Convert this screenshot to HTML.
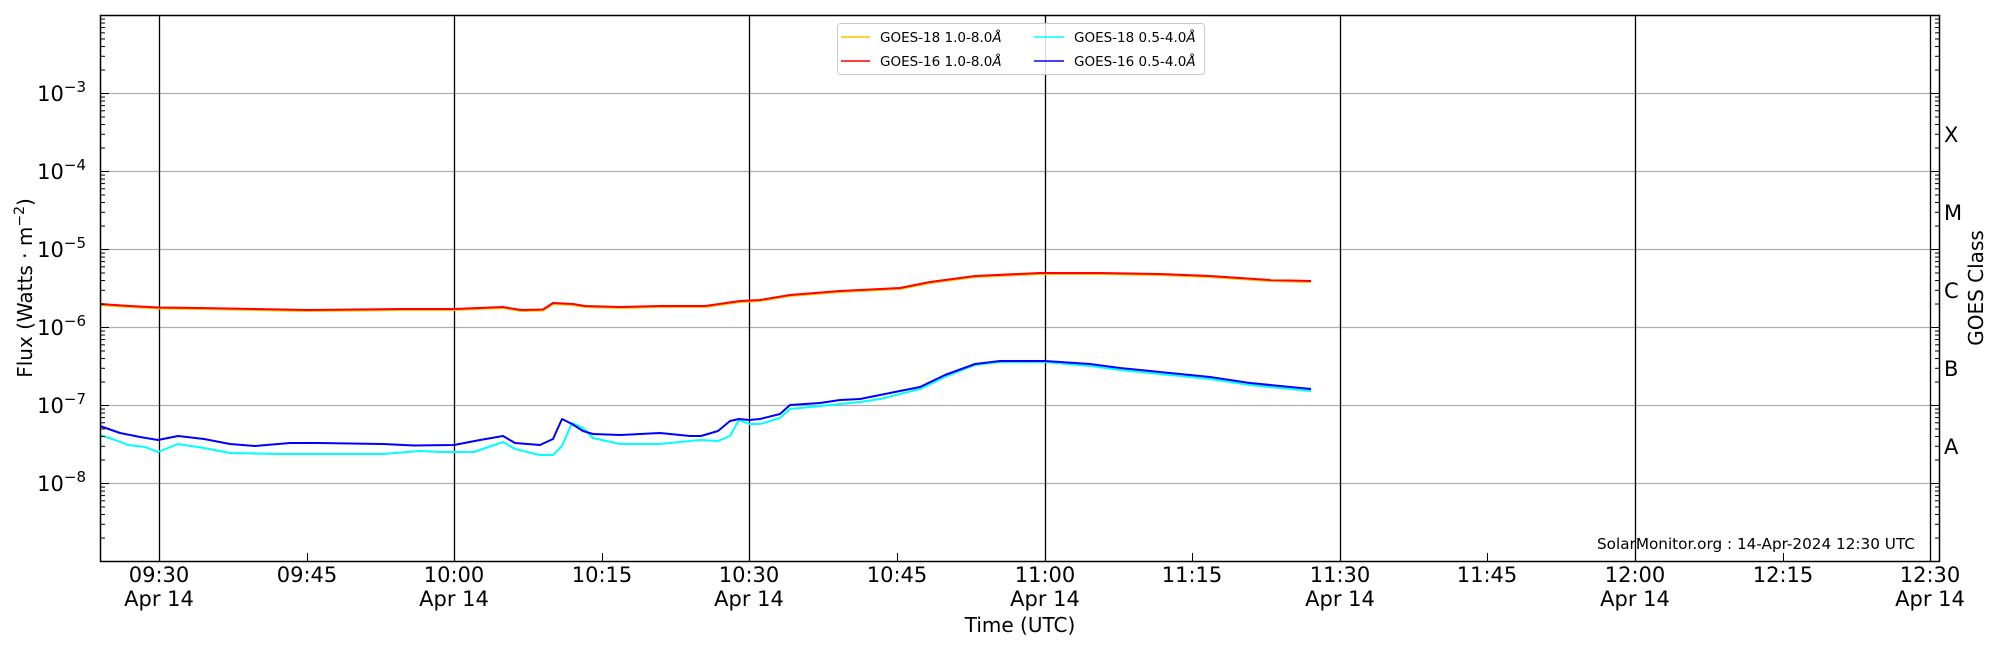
<!DOCTYPE html>
<html><head><meta charset="utf-8"><style>
html,body{margin:0;padding:0;background:#fff;}
svg{display:block;font-family:"DejaVu Sans","Liberation Sans",sans-serif;}
</style></head><body>
<svg id="s" width="2000" height="650" viewBox="0 0 2000 650" xmlns="http://www.w3.org/2000/svg">
<rect width="2000" height="650" fill="#fff"/>
<g id="grid"></g>
<g id="data" fill="none" stroke-width="2" stroke-linejoin="round">
<polyline id="cy" stroke="#00ffff" points=""/>
<polyline id="bl" stroke="#0000ff" points=""/>
<polyline id="or" stroke="#ffc000" points=""/>
<polyline id="rd" stroke="#ff0000" points=""/>
</g>
<g id="ticks" stroke="#000" stroke-width="1"></g>
<rect x="100.5" y="15.5" width="1839" height="546" fill="none" stroke="#000" stroke-width="1.5"/>
<!-- legend -->
<rect x="837.5" y="23.5" width="367" height="51" rx="3" fill="#fff" fill-opacity="0.85" stroke="#ccc"/>
<line x1="841" y1="37" x2="870" y2="37" stroke="#ffc000" stroke-width="1.5"/>
<line x1="841" y1="61" x2="870" y2="61" stroke="#ff0000" stroke-width="1.5"/>
<line x1="1034" y1="37" x2="1064" y2="37" stroke="#00ffff" stroke-width="1.5"/>
<line x1="1034" y1="61" x2="1064" y2="61" stroke="#0000ff" stroke-width="1.5"/>
<g font-size="13.5" fill="#000">
<text x="880" y="42">GOES-18 1.0-8.0<tspan font-style="italic">Å</tspan></text>
<text x="880" y="66">GOES-16 1.0-8.0<tspan font-style="italic">Å</tspan></text>
<text x="1074" y="42">GOES-18 0.5-4.0<tspan font-style="italic">Å</tspan></text>
<text x="1074" y="66">GOES-16 0.5-4.0<tspan font-style="italic">Å</tspan></text>
</g>
<!-- y tick labels -->
<g font-size="21" fill="#000" text-anchor="end">
<text x="86" y="101">10<tspan font-size="15" dy="-9">−3</tspan></text>
<text x="86" y="179">10<tspan font-size="15" dy="-9">−4</tspan></text>
<text x="86" y="257">10<tspan font-size="15" dy="-9">−5</tspan></text>
<text x="86" y="335">10<tspan font-size="15" dy="-9">−6</tspan></text>
<text x="86" y="413">10<tspan font-size="15" dy="-9">−7</tspan></text>
<text x="86" y="491">10<tspan font-size="15" dy="-9">−8</tspan></text>
</g>
<text transform="translate(32,288) rotate(-90)" font-size="20" text-anchor="middle">Flux (Watts · m<tspan font-size="14" dy="-8">−2</tspan><tspan dy="8">)</tspan></text>
<!-- right labels -->
<g font-size="21" fill="#000">
<text x="1944" y="142">X</text>
<text x="1944" y="220">M</text>
<text x="1944" y="298">C</text>
<text x="1944" y="376">B</text>
<text x="1944" y="454">A</text>
</g>
<text transform="translate(1983,288) rotate(-90)" font-size="20" text-anchor="middle">GOES Class</text>
<!-- x labels -->
<g font-size="21" fill="#000" text-anchor="middle">
<text x="159" y="582">09:30</text><text x="159" y="606">Apr 14</text>
<text x="307" y="582">09:45</text>
<text x="454" y="582">10:00</text><text x="454" y="606">Apr 14</text>
<text x="602" y="582">10:15</text>
<text x="749" y="582">10:30</text><text x="749" y="606">Apr 14</text>
<text x="897" y="582">10:45</text>
<text x="1045" y="582">11:00</text><text x="1045" y="606">Apr 14</text>
<text x="1192" y="582">11:15</text>
<text x="1340" y="582">11:30</text><text x="1340" y="606">Apr 14</text>
<text x="1487" y="582">11:45</text>
<text x="1635" y="582">12:00</text><text x="1635" y="606">Apr 14</text>
<text x="1783" y="582">12:15</text>
<text x="1930" y="582">12:30</text><text x="1930" y="606">Apr 14</text>
</g>
<text x="1020" y="632" font-size="20" text-anchor="middle">Time (UTC)</text>
<text x="1915" y="549" font-size="15" text-anchor="end" textLength="318" lengthAdjust="spacingAndGlyphs">SolarMonitor.org : 14-Apr-2024 12:30 UTC</text>
</svg>
<script>
var NS="http://www.w3.org/2000/svg";
function el(p,t,a){var e=document.createElementNS(NS,t);for(var k in a)e.setAttribute(k,a[k]);p.appendChild(e);return e;}
var g=document.getElementById('grid'),tk=document.getElementById('ticks');
function Y(l){return 15+(-2-l)*78;}
for(var d=-8;d<=-3;d++){var y=Y(d)+0.5;el(g,'line',{x1:100,x2:1930,y1:y,y2:y,stroke:'#b0b0b0','stroke-width':1.2});}
var xs=[159,454,749,1045,1340,1635,1930];
xs.forEach(function(x){el(g,'line',{x1:x+0.5,x2:x+0.5,y1:15,y2:561,stroke:'#000','stroke-width':1.3});});
[307,602,897,1192,1487,1783].forEach(function(x){el(tk,'line',{x1:x+0.5,x2:x+0.5,y1:561,y2:553});});
for(var d=-9;d<-2;d++){for(var k=1;k<10;k++){var l=d+Math.log10(k);if(l>-2)continue;var y=Y(l)+0.5;var len=k==1?9:5;
if(y<15||y>561)continue;
el(tk,'line',{x1:100,x2:100+len,y1:y,y2:y});el(tk,'line',{x1:1940,x2:1940-len,y1:y,y2:y});}}
var red=[[100,304],[130,306],[159,307.5],[200,308],[255,309],[307,310],[400,309],[454,309],[503,307],[521,310],[543,309.5],[553,303],[573,304],[585,306],[620,307],[660,306],[705,306],[740,301],[760,300],[790,295],[840,291],[900,288],[930,282],[975,276],[1040,273],[1100,273],[1160,274],[1210,276],[1270,280],[1311,281]];
var blue=[[100,426],[120,433],[140,437],[158,440],[178,436],[204,439],[230,444],[255,446],[290,443],[319,443],[383,444],[414,445.5],[454,445],[480,440],[503,436],[515,443],[540,445],[553,439],[562,419],[572,424],[583,431],[593,434],[620,435],[660,433],[690,436],[701,436],[718,431],[730,421],[739,419],[749,420],[760,419],[780,414],[790,405],[820,403],[840,400],[860,399],[880,395],[920,387],[945,375],[975,364],[1000,361],[1045,361],[1090,364],[1120,368],[1160,372],[1210,377],[1250,383],[1311,389]];
var cyan=[[100,435],[115,440],[128,445],[145,447],[158,452],[178,444],[204,448],[230,453],[281,454],[383,454],[420,451],[440,452],[474,452],[503,442],[515,449],[540,455],[553,455],[562,446],[572,423],[583,428],[593,438],[620,444],[660,444],[700,440],[718,441],[730,436],[739,420],[749,424],[760,424],[780,418],[790,409],[820,406],[860,402],[880,399],[920,389],[945,377],[975,365],[1000,362],[1045,362],[1090,366],[1120,370],[1160,374],[1210,379],[1250,385],[1311,391]];
function pts(a,dy){return a.map(function(p){return p[0]+','+(p[1]+(dy||0))}).join(' ');}
document.getElementById('rd').setAttribute('points',pts(red));
document.getElementById('or').setAttribute('points',pts(red,1));
document.getElementById('bl').setAttribute('points',pts(blue));
document.getElementById('cy').setAttribute('points',pts(cyan));
</script>
</body></html>
